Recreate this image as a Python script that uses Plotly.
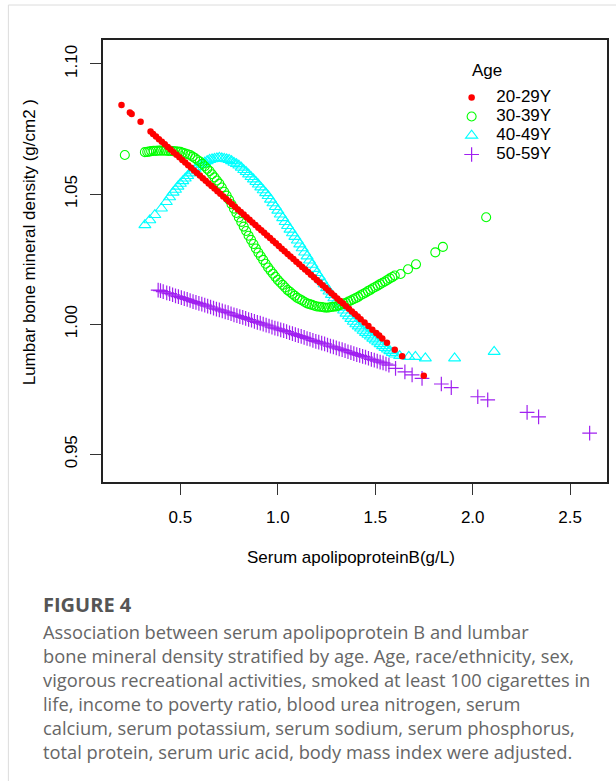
import plotly.graph_objects as go

# ------------------------------------------------------------------ data
age_groups = ["20-29Y", "30-39Y", "40-49Y", "50-59Y"]
age_colors = ["#FF0000", "#00FF00", "#00FFFF", "#A020F0"]

x_ticks = [0.5, 1.0, 1.5, 2.0, 2.5]
x_tick_labels = ["0.5", "1.0", "1.5", "2.0", "2.5"]
y_ticks = [0.95, 1.00, 1.05, 1.10]
y_tick_labels = ["0.95", "1.00", "1.05", "1.10"]

# 20-29Y
x_20_29 = [0.198, 0.241, 0.250, 0.296, 0.347,
           0.360, 0.375, 0.390, 0.405, 0.420, 0.435, 0.450, 0.465, 0.480, 0.495,
           0.510, 0.525, 0.540, 0.555, 0.570, 0.585, 0.600, 0.615, 0.630, 0.645,
           0.660, 0.675, 0.690, 0.705, 0.720, 0.735, 0.750, 0.765, 0.780, 0.795,
           0.810, 0.825, 0.840, 0.855, 0.870, 0.885, 0.900, 0.915, 0.930, 0.945,
           0.960, 0.975, 0.990, 1.005, 1.020, 1.035, 1.050, 1.065, 1.080, 1.095,
           1.110, 1.125, 1.140, 1.155, 1.170, 1.185, 1.200, 1.215, 1.230, 1.245,
           1.260, 1.275, 1.290, 1.305, 1.320, 1.335, 1.350, 1.365, 1.380,
           1.395, 1.410, 1.425, 1.445, 1.465, 1.485, 1.505, 1.520, 1.536, 1.560,
           1.600, 1.638, 1.749]
y_20_29 = [1.0842, 1.0813, 1.0808, 1.0778, 1.0740,
           1.0731, 1.0721, 1.0711, 1.0701, 1.0691, 1.0681, 1.0671, 1.0661, 1.0651, 1.0641,
           1.0631, 1.0621, 1.0611, 1.0601, 1.0591, 1.0581, 1.0571, 1.0561, 1.0551, 1.0541,
           1.0531, 1.0521, 1.0511, 1.0501, 1.0491, 1.0481, 1.0471, 1.0461, 1.0451, 1.0441,
           1.0431, 1.0421, 1.0411, 1.0401, 1.0391, 1.0381, 1.0371, 1.0361, 1.0351, 1.0341,
           1.0331, 1.0321, 1.0311, 1.0300, 1.0290, 1.0280, 1.0270, 1.0260, 1.0250, 1.0240,
           1.0230, 1.0220, 1.0210, 1.0200, 1.0190, 1.0180, 1.0170, 1.0160, 1.0150, 1.0140,
           1.0129, 1.0119, 1.0109, 1.0099, 1.0089, 1.0079, 1.0069, 1.0059, 1.0049,
           1.0039, 1.0029, 1.0019, 1.0006, 0.9993, 0.9979, 0.9966, 0.9956, 0.9945, 0.9929,
           0.9902, 0.9877, 0.9802]

# 30-39Y
x_30_39 = [0.215, 0.318, 0.330, 0.340,
           0.3500, 0.3625, 0.3750, 0.3875, 0.4000, 0.4125, 0.4250, 0.4375,
           0.4500, 0.4625, 0.4750, 0.4875, 0.5000, 0.5125, 0.5250, 0.5375,
           0.5500, 0.5625, 0.5750, 0.5875, 0.6000, 0.6125, 0.6250, 0.6375,
           0.6500, 0.6625, 0.6750, 0.6875, 0.7000, 0.7125, 0.7250, 0.7375,
           0.7500, 0.7625, 0.7750, 0.7875, 0.8000, 0.8125, 0.8250, 0.8375,
           0.8500, 0.8625, 0.8750, 0.8875, 0.9000, 0.9125, 0.9250, 0.9375,
           0.9500, 0.9625, 0.9750, 0.9875, 1.0000, 1.0125, 1.0250, 1.0375,
           1.0500, 1.0625, 1.0750, 1.0875, 1.1000, 1.1125, 1.1250, 1.1375,
           1.1500, 1.1625, 1.1750, 1.1875, 1.2000, 1.2125, 1.2250, 1.2375,
           1.2500, 1.2625, 1.2750, 1.2875, 1.3000, 1.3125, 1.3250, 1.3375,
           1.3500, 1.3625, 1.3750, 1.3875, 1.4000, 1.4125, 1.4250, 1.4375,
           1.4500, 1.4625, 1.4750, 1.4875, 1.5000, 1.5125, 1.5250, 1.5375,
           1.5500, 1.5625, 1.5750, 1.5875, 1.6000,
           1.630, 1.668, 1.709, 1.808, 1.847, 2.069]
y_30_39 = [1.0650, 1.0661, 1.0662, 1.0663,
           1.0665, 1.0666, 1.0666, 1.0667, 1.0667, 1.0667, 1.0667, 1.0666,
           1.0666, 1.0665, 1.0664, 1.0663, 1.0662, 1.0659, 1.0656, 1.0653,
           1.0650, 1.0644, 1.0638, 1.0631, 1.0625, 1.0616, 1.0607, 1.0597,
           1.0588, 1.0576, 1.0564, 1.0552, 1.0540, 1.0525, 1.0509, 1.0494,
           1.0478, 1.0461, 1.0444, 1.0427, 1.0410, 1.0393, 1.0375, 1.0358,
           1.0340, 1.0324, 1.0308, 1.0291, 1.0275, 1.0261, 1.0247, 1.0232,
           1.0218, 1.0206, 1.0194, 1.0182, 1.0170, 1.0160, 1.0151, 1.0141,
           1.0131, 1.0124, 1.0116, 1.0109, 1.0101, 1.0096, 1.0091, 1.0085,
           1.0080, 1.0077, 1.0074, 1.0071, 1.0068, 1.0067, 1.0066, 1.0064,
           1.0063, 1.0064, 1.0066, 1.0067, 1.0068, 1.0072, 1.0075, 1.0079,
           1.0082, 1.0087, 1.0091, 1.0096, 1.0100, 1.0105, 1.0111, 1.0116,
           1.0121, 1.0127, 1.0132, 1.0138, 1.0143, 1.0148, 1.0154, 1.0159,
           1.0164, 1.0170, 1.0176, 1.0181, 1.0187,
           1.0193, 1.0211, 1.0230, 1.0276, 1.0297, 1.0411]

# 40-49Y
x_40_49 = [0.318, 0.343, 0.369, 0.403, 0.428, 0.445,
           0.4625, 0.4750, 0.4875,
           0.5000, 0.5125, 0.5250, 0.5375, 0.5500, 0.5625, 0.5750, 0.5875,
           0.6000, 0.6125, 0.6250, 0.6375, 0.6500, 0.6625, 0.6750, 0.6875,
           0.7000, 0.7125, 0.7250, 0.7375, 0.7500, 0.7625, 0.7750, 0.7875,
           0.8000, 0.8125, 0.8250, 0.8375, 0.8500, 0.8625, 0.8750, 0.8875,
           0.9000, 0.9125, 0.9250, 0.9375, 0.9500, 0.9625, 0.9750, 0.9875,
           1.0000, 1.0125, 1.0250, 1.0375, 1.0500, 1.0625, 1.0750, 1.0875,
           1.1000, 1.1125, 1.1250, 1.1375, 1.1500, 1.1625, 1.1750, 1.1875,
           1.2000, 1.2125, 1.2250, 1.2375, 1.2500, 1.2625, 1.2750, 1.2875,
           1.3000, 1.3125, 1.3250, 1.3375, 1.3500, 1.3625, 1.3750, 1.3875,
           1.4000, 1.4125, 1.4250, 1.4375, 1.4500, 1.4625, 1.4750, 1.4875,
           1.5000, 1.5125, 1.5250, 1.5375, 1.5500, 1.5625, 1.5750, 1.5875,
           1.6000,
           1.625, 1.672, 1.706, 1.757, 1.907, 2.110]
y_40_49 = [1.0381, 1.0400, 1.0420, 1.0445, 1.0470, 1.0488,
           1.0506, 1.0517, 1.0529,
           1.0540, 1.0550, 1.0560, 1.0570, 1.0580, 1.0588, 1.0596, 1.0604,
           1.0612, 1.0617, 1.0622, 1.0627, 1.0632, 1.0634, 1.0636, 1.0638,
           1.0640, 1.0638, 1.0636, 1.0634, 1.0632, 1.0627, 1.0621, 1.0616,
           1.0610, 1.0602, 1.0593, 1.0585, 1.0576, 1.0566, 1.0557, 1.0547,
           1.0537, 1.0526, 1.0515, 1.0504, 1.0493, 1.0479, 1.0465, 1.0451,
           1.0437, 1.0422, 1.0408, 1.0393, 1.0378, 1.0364, 1.0350, 1.0336,
           1.0322, 1.0307, 1.0292, 1.0276, 1.0261, 1.0245, 1.0229, 1.0213,
           1.0197, 1.0183, 1.0168, 1.0154, 1.0139, 1.0126, 1.0113, 1.0100,
           1.0087, 1.0076, 1.0064, 1.0053, 1.0041, 1.0031, 1.0021, 1.0010,
           1.0000, 0.9992, 0.9984, 0.9975, 0.9967, 0.9960, 0.9953, 0.9945,
           0.9938, 0.9931, 0.9924, 0.9916, 0.9909, 0.9903, 0.9897, 0.9890,
           0.9884,
           0.9878, 0.9875, 0.9875, 0.9869, 0.9869, 0.9894]

# 50-59Y
x_50_59 = [0.386, 0.398, 0.412,
           0.430, 0.445, 0.460, 0.475, 0.490, 0.505, 0.520, 0.535, 0.550, 0.565,
           0.580, 0.595, 0.610, 0.625, 0.640, 0.655, 0.670, 0.685, 0.700, 0.715,
           0.730, 0.745, 0.760, 0.775, 0.790, 0.805, 0.820, 0.835, 0.850, 0.865,
           0.880, 0.895, 0.910, 0.925, 0.940, 0.955, 0.970, 0.985, 1.000, 1.015,
           1.030, 1.045, 1.060, 1.075, 1.090, 1.105, 1.120, 1.135, 1.150, 1.165,
           1.180, 1.195, 1.210, 1.225, 1.240, 1.255, 1.270, 1.285, 1.300, 1.315,
           1.330, 1.345, 1.360, 1.375, 1.390, 1.405, 1.420, 1.435, 1.450, 1.465,
           1.480, 1.495, 1.510, 1.525, 1.540, 1.555, 1.570,
           1.604, 1.652, 1.689, 1.740, 1.839, 1.890, 2.026, 2.077, 2.279, 2.338, 2.600]
y_50_59 = [1.0131, 1.0129, 1.0125,
           1.0120, 1.0117, 1.0113, 1.0109, 1.0106, 1.0102, 1.0098, 1.0095, 1.0091, 1.0087,
           1.0084, 1.0080, 1.0077, 1.0073, 1.0069, 1.0066, 1.0062, 1.0058, 1.0055, 1.0051,
           1.0047, 1.0044, 1.0040, 1.0036, 1.0033, 1.0029, 1.0026, 1.0022, 1.0018, 1.0015,
           1.0011, 1.0007, 1.0004, 1.0000, 0.9996, 0.9993, 0.9989, 0.9985, 0.9982, 0.9978,
           0.9975, 0.9971, 0.9967, 0.9964, 0.9960, 0.9956, 0.9953, 0.9949, 0.9945, 0.9942,
           0.9938, 0.9934, 0.9931, 0.9927, 0.9924, 0.9920, 0.9916, 0.9913, 0.9909, 0.9905,
           0.9902, 0.9898, 0.9894, 0.9891, 0.9887, 0.9883, 0.9880, 0.9876, 0.9873, 0.9869,
           0.9865, 0.9862, 0.9858, 0.9854, 0.9851, 0.9847, 0.9843,
           0.9830, 0.9817, 0.9805, 0.9792, 0.9770, 0.9756, 0.9721, 0.9709, 0.9661, 0.9644, 0.9581]

x_title = "Serum apolipoproteinB(g/L)"
y_title = "Lumbar bone mineral density (g/cm2 )"
legend_title = "Age"
caption_head = "FIGURE 4"
caption_lines = [
    "Association between serum apolipoprotein B and lumbar",
    "bone mineral density stratified by age. Age, race/ethnicity, sex,",
    "vigorous recreational activities, smoked at least 100 cigarettes in",
    "life, income to poverty ratio, blood urea nitrogen, serum",
    "calcium, serum potassium, serum sodium, serum phosphorus,",
    "total protein, serum uric acid, body mass index were adjusted.",
]

# ------------------------------------------------------------------ layout geometry (pixels)
W, H = 616, 781
PL, PR, PT, PB = 103, 609, 40, 482
pw, ph = PR - PL, PB - PT


def px(xp):
    return (xp - PL) / pw


def py(yp):
    return (PB - yp) / ph


FONT = "Liberation Sans, Arial, Helvetica, sans-serif"
CAP_FONT = "Open Sans, Lato, sans-serif"

series = [
    (x_20_29, y_20_29, dict(symbol="circle", size=6.5, color=age_colors[0], line=dict(width=0))),
    (x_30_39, y_30_39, dict(symbol="circle-open", size=9, color=age_colors[1], line=dict(width=1.1, color=age_colors[1]))),
    (x_40_49, y_40_49, dict(symbol="triangle-up-open", size=10.5, color=age_colors[2], line=dict(width=1.1, color=age_colors[2]))),
    (x_50_59, y_50_59, dict(symbol="cross-thin-open", size=10.5, color=age_colors[3], line=dict(width=1.2, color=age_colors[3]))),
]

fig = go.Figure()
draw_order = [2, 3, 1, 0]
for i in draw_order:
    xs, ys, mk = series[i]
    fig.add_trace(go.Scatter(
        x=xs, y=ys, mode="markers", marker=mk,
        name='<span style="font-size:17px">\u00a0' + age_groups[i] + '</span>',
        legendrank=i + 1,
    ))

annotations = [
    dict(text=x_title, x=px(352), y=py(557), xref="paper", yref="paper",
         showarrow=False, font=dict(family=FONT, size=17, color="#000"),
         xanchor="center", yanchor="middle"),
    dict(text=y_title, x=px(29), y=py(242), xref="paper", yref="paper",
         showarrow=False, textangle=-90, font=dict(family=FONT, size=17, color="#000"),
         xanchor="center", yanchor="middle"),
    dict(text=legend_title, x=px(471), y=py(70), xref="paper", yref="paper",
         showarrow=False, font=dict(family=FONT, size=17, color="#000"),
         xanchor="left", yanchor="middle"),
    dict(text="<b>" + caption_head + "</b>", x=px(41), y=py(604), xref="paper", yref="paper",
         showarrow=False, font=dict(family=CAP_FONT, size=20, color="#555555"),
         xanchor="left", yanchor="middle"),
]
for k, line in enumerate(caption_lines):
    annotations.append(dict(text=line, x=px(41), y=py(631 + 24 * k), xref="paper", yref="paper",
                            showarrow=False, font=dict(family=CAP_FONT, size=18.3, color="#666666"),
                            xanchor="left", yanchor="middle"))

shapes = [
    dict(type="line", xref="paper", yref="paper", x0=px(8), x1=px(8), y0=py(5), y1=py(H + 5),
         line=dict(color="#dcdcdc", width=1)),
    dict(type="line", xref="paper", yref="paper", x0=px(8), x1=px(W + 5), y0=py(5), y1=py(5),
         line=dict(color="#dcdcdc", width=1)),
]

axis_common = dict(
    showgrid=False, zeroline=False, showline=True, mirror=True,
    linecolor="#222222", linewidth=1.5,
    ticks="outside", ticklen=11, tickwidth=1.3, tickcolor="#333333",
    tickfont=dict(family=FONT, size=17, color="#000"),
)

fig.update_layout(
    width=W, height=H,
    margin=dict(l=PL, r=W - PR, t=PT, b=H - PB, pad=0),
    paper_bgcolor="white", plot_bgcolor="white",
    xaxis=dict(range=[0.103, 2.689], tickvals=x_ticks, ticktext=x_tick_labels,
               ticklabelstandoff=8, **axis_common),
    yaxis=dict(range=[0.93935, 1.1092], tickvals=y_ticks, ticktext=y_tick_labels,
               tickangle=-90, ticklabelstandoff=6, **axis_common),
    showlegend=True,
    legend=dict(x=px(453), y=py(83), xanchor="left", yanchor="top",
                bgcolor="rgba(0,0,0,0)", borderwidth=0,
                font=dict(family=FONT, size=12.3, color="#000"),
                itemsizing="trace", traceorder="normal"),
    annotations=annotations,
    shapes=shapes,
)

fig.write_html("out.html")
